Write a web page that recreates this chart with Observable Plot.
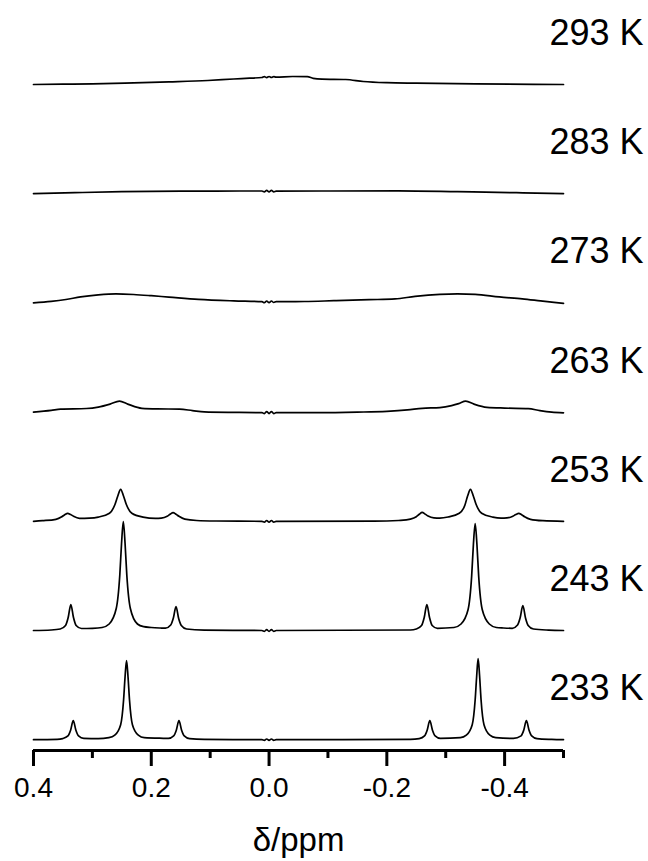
<!DOCTYPE html>
<html>
<head>
<meta charset="utf-8">
<script src="https://cdn.jsdelivr.net/npm/d3@7"></script>
<script src="https://cdn.jsdelivr.net/npm/@observablehq/plot@0.6"></script>
<style>
  html, body { margin: 0; padding: 0; background: #fff; }
  #chart { width: 648px; height: 861px; }
</style>
</head>
<body>
<div id="chart"></div>
<script>
// Temperatures, top to bottom
const temps = ["293 K", "283 K", "273 K", "263 K", "253 K", "243 K", "233 K"];

// Axis ticks
const majorTicks = [0.4, 0.2, 0.0, -0.2, -0.4];
const majorLabels = ["0.4", "0.2", "0.0", "-0.2", "-0.4"];
const minorTicks = [0.3, 0.1, -0.1, -0.3, -0.5];
const xLabel = "δ/ppm";

// Spectra: [δ (ppm), intensity above own baseline (a.u.)]
const s293 = [[0.40,0],[0.35,0.3],[0.30,0.6],[0.245,1.3],[0.17,2.6],[0.104,4],[0.06,5.5],[0.033,6.3],[0.012,7],[0.008,7.9],[0.004,6.9],[0,8],[-0.004,7],[-0.008,7.9],[-0.012,7.4],[-0.04,8],[-0.065,7.8],[-0.075,6.2],[-0.09,5.4],[-0.13,5],[-0.16,3],[-0.2,1.8],[-0.25,1.3],[-0.35,0.6],[-0.45,0.2],[-0.5,0]];

const s283 = [[0.40,0],[0.33,1],[0.25,2],[0.15,2.5],[0.05,2.7],[0.012,2.7],[0.008,1.9],[0.004,3.3],[0,1.8],[-0.004,3.3],[-0.008,1.9],[-0.012,2.6],[-0.1,2.7],[-0.22,2.8],[-0.32,2],[-0.42,1],[-0.5,0]];

const s273 = [[0.40,0],[0.37,1.5],[0.345,3.4],[0.32,6],[0.29,8],[0.26,9],[0.23,8.4],[0.20,7.2],[0.17,5.8],[0.12,3.5],[0.06,2],[0.012,1.2],[0.008,0.3],[0.004,1.9],[0,0.3],[-0.004,1.9],[-0.008,0.4],[-0.012,1.2],[-0.06,1.4],[-0.11,2.2],[-0.17,3.2],[-0.214,4],[-0.248,6.5],[-0.29,8.5],[-0.32,9],[-0.35,8.6],[-0.391,6],[-0.43,4],[-0.461,2],[-0.5,-0.5]];

const s263 = [[0.40,0],[0.37,1.8],[0.354,3],[0.31,3.6],[0.29,5],[0.27,8],[0.254,11],[0.24,8],[0.216,3.8],[0.19,3.2],[0.152,3],[0.13,1.5],[0.11,0.2],[0.06,-0.3],[0.012,-0.5],[0.008,-1.5],[0.004,0.5],[0,-1.5],[-0.004,0.5],[-0.008,-1.5],[-0.012,-0.5],[-0.08,-0.5],[-0.15,0],[-0.2,0.8],[-0.235,2.2],[-0.26,3.8],[-0.29,4.5],[-0.31,6.5],[-0.322,8.5],[-0.334,11],[-0.348,8],[-0.37,4.8],[-0.40,4],[-0.44,3.5],[-0.46,1.5],[-0.48,0],[-0.5,-0.7]];

const s253 = [[0.40,0],[0.385,0.6],[0.362,2],[0.352,4.5],[0.347,6.5],[0.342,8],[0.337,6.8],[0.332,5],[0.322,3],[0.305,3.2],[0.29,4.2],[0.271,8],[0.2615,17],[0.257,25],[0.252,32],[0.247,25],[0.2425,17],[0.233,8],[0.214,4.2],[0.193,3],[0.183,3.2],[0.173,5],[0.168,7],[0.163,8.7],[0.158,7],[0.153,5],[0.143,2.2],[0.123,0.8],[0.09,0.3],[0.012,0],[0.008,-0.8],[0.004,0.8],[0,-0.8],[-0.004,0.8],[-0.008,-0.8],[-0.012,0],[-0.2,0.3],[-0.22,0.8],[-0.24,2.2],[-0.25,4.5],[-0.255,7],[-0.26,9],[-0.265,7.2],[-0.27,5.2],[-0.28,3.4],[-0.29,3.2],[-0.304,4.3],[-0.323,8],[-0.3325,16],[-0.337,25],[-0.342,32],[-0.347,25],[-0.3515,17],[-0.361,8],[-0.38,4.2],[-0.394,3.2],[-0.404,3.4],[-0.414,5],[-0.419,6.8],[-0.424,8],[-0.429,6.5],[-0.434,4.5],[-0.444,2],[-0.465,0.6],[-0.5,0]];

const s243 = [[0.40,0],[0.37,0.5],[0.3546,1.5],[0.3456,5],[0.3411,13],[0.3366,26],[0.3321,13],[0.3276,5],[0.3186,2],[0.30,2.2],[0.2835,3],[0.2715,6.5],[0.2595,22],[0.2535,55],[0.2505,87],[0.2475,109],[0.2445,87],[0.2415,55],[0.2355,22],[0.2235,6.5],[0.213,3.8],[0.20,3],[0.185,2.5],[0.176,2.3],[0.167,5.5],[0.1625,12.5],[0.158,24],[0.1535,12],[0.149,5],[0.14,1.5],[0.11,0.4],[0.012,0],[0.008,-0.8],[0.004,0.8],[0,-0.8],[-0.004,0.8],[-0.008,-0.8],[-0.012,0],[-0.24,0.5],[-0.25,1.5],[-0.259,5],[-0.2635,13],[-0.268,26],[-0.2725,13],[-0.277,5],[-0.286,2.2],[-0.314,3],[-0.326,6.5],[-0.338,21],[-0.344,54],[-0.347,86],[-0.350,107],[-0.353,86],[-0.356,54],[-0.362,21],[-0.374,6.5],[-0.386,3],[-0.398,2.5],[-0.413,2.2],[-0.422,5.5],[-0.4265,13],[-0.431,25],[-0.4355,12.5],[-0.44,5],[-0.449,1.5],[-0.475,0.4],[-0.5,0]];

const s233 = [[0.40,0],[0.36,0.3],[0.3505,1.1],[0.3415,3.8],[0.337,9.5],[0.3325,19],[0.328,9.5],[0.3235,3.8],[0.3145,1.3],[0.29,1.0],[0.272,2],[0.262,4.5],[0.252,15],[0.247,40],[0.2445,63],[0.242,79],[0.2395,63],[0.237,40],[0.232,15],[0.222,4.5],[0.212,2],[0.1795,1.4],[0.171,1.3],[0.162,3.8],[0.1575,9.5],[0.153,19],[0.1485,9.5],[0.144,3.8],[0.135,1.1],[0.11,0.3],[0.012,0],[0.008,-0.7],[0.004,0.7],[0,-0.7],[-0.004,0.7],[-0.008,-0.7],[-0.012,0],[-0.24,0.3],[-0.255,1.1],[-0.264,3.8],[-0.2685,9.5],[-0.273,19],[-0.2775,9.5],[-0.282,3.8],[-0.291,1.3],[-0.325,2],[-0.335,4.5],[-0.345,15],[-0.350,40],[-0.3525,63],[-0.355,81],[-0.3575,64],[-0.360,40],[-0.365,15],[-0.375,4.5],[-0.385,2],[-0.415,1.3],[-0.428,3.8],[-0.4325,9.5],[-0.437,19],[-0.4415,9.5],[-0.446,3.8],[-0.455,1.1],[-0.48,0.3],[-0.5,0]];

const spectra = [s293, s283, s273, s263, s253, s243, s233];

// Stacking layout
const topBase = 666;
const spacing = 109.2;
const base = k => topBase - k * spacing;

const rows = spectra.flatMap((s, k) => s.map(([d, I]) => ({temp: temps[k], d, v: base(k) + I})));
const labelRows = temps.map((t, k) => ({t, v: base(k)}));

const font = "'Liberation Sans', Arial, Helvetica, sans-serif";

const chart = Plot.plot({
  width: 648,
  height: 861,
  marginLeft: 33,
  marginRight: 85,
  marginTop: 0,
  marginBottom: 111,
  x: {domain: [0.4, -0.5], axis: null},
  y: {domain: [0, 750], axis: null},
  style: {fontFamily: font, background: "white", color: "black"},
  marks: [
    Plot.line(rows, {x: "d", y: "v", z: "temp", curve: "monotone-x", stroke: "black", strokeWidth: 1.7}),
    Plot.ruleY([0], {stroke: "black", strokeWidth: 3}),
    Plot.ruleX(majorTicks, {x: d => d, y1: 0, y2: -16, stroke: "black", strokeWidth: 3}),
    Plot.ruleX(minorTicks, {x: d => d, y1: 0, y2: -8, stroke: "black", strokeWidth: 3}),
    Plot.text(majorTicks, {
      x: d => d, text: (d, i) => majorLabels[i], frameAnchor: "bottom", lineAnchor: "top",
      dy: 27, fontSize: 28, fill: "black"
    }),
    Plot.text(labelRows, {
      y: "v", text: "t", frameAnchor: "right", textAnchor: "end", lineAnchor: "middle",
      dx: 80, dy: -51, fontSize: 36, fill: "black"
    }),
    Plot.text([xLabel], {
      frameAnchor: "bottom", lineAnchor: "middle", dy: 90, fontSize: 33, fill: "black"
    })
  ]
});
document.getElementById("chart").appendChild(chart);
</script>
</body>
</html>
